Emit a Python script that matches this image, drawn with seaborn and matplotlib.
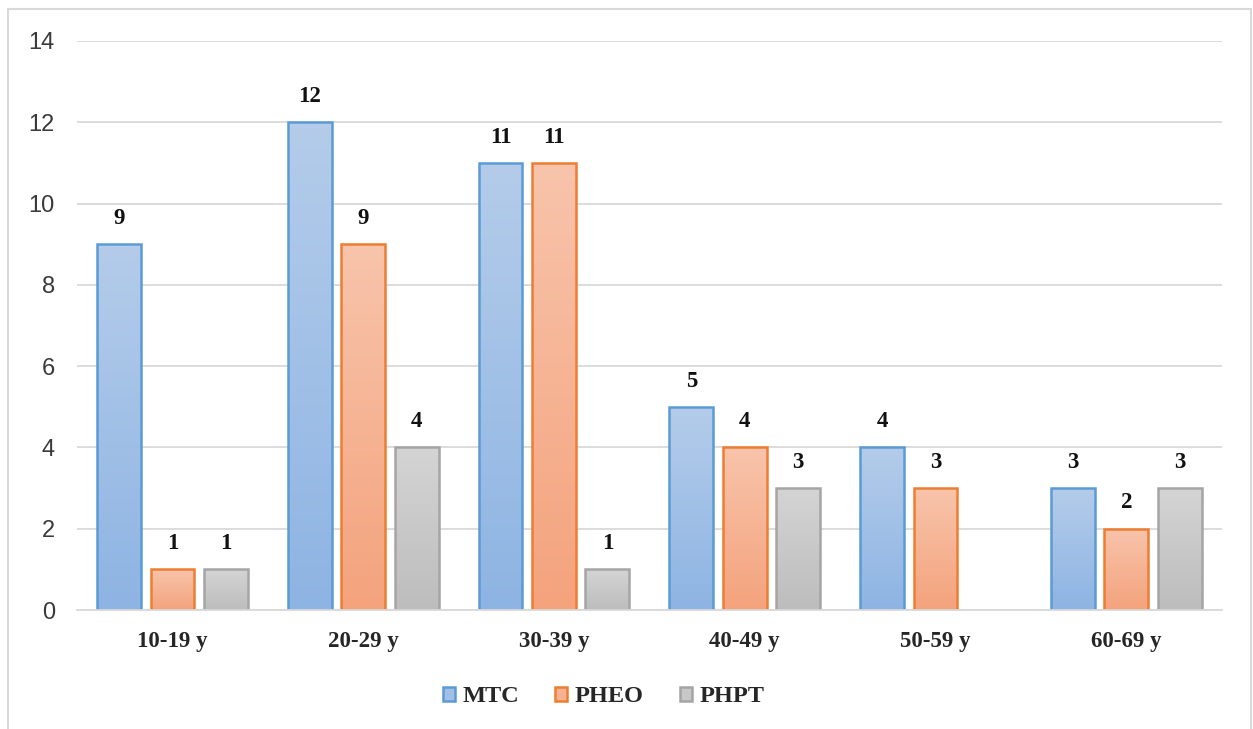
import numpy as np
import pandas as pd
import matplotlib
matplotlib.use("Agg")
import matplotlib.pyplot as plt
import seaborn as sns
from matplotlib.colors import LinearSegmentedColormap
from matplotlib.patches import Patch, Rectangle

age_groups = ["10-19 y", "20-29 y", "30-39 y", "40-49 y", "50-59 y", "60-69 y"]
diseases = ["MTC", "PHEO", "PHPT"]
mtc = [9, 12, 11, 5, 4, 3]
pheo = [1, 9, 11, 4, 3, 2]
phpt = [1, 4, 1, 3, np.nan, 3]

edge_cols = {"MTC": "#5B9BD5", "PHEO": "#ED7D31", "PHPT": "#A5A5A5"}
top_cols = {"MTC": "#B4CCEA", "PHEO": "#F8C4AB", "PHPT": "#D4D4D4"}
bot_cols = {"MTC": "#8EB4E3", "PHEO": "#F4A37D", "PHPT": "#BDBDBD"}
mid_cols = {"MTC": "#A2C0E6", "PHEO": "#F6B394", "PHPT": "#C8C8C8"}

df = pd.DataFrame({"age": age_groups * 3,
                   "disease": ["MTC"] * 6 + ["PHEO"] * 6 + ["PHPT"] * 6,
                   "n": mtc + pheo + phpt})

sns.set_style("white")
serif = ["Liberation Serif", "DejaVu Serif"]
fig = plt.figure(figsize=(12.53, 7.29), dpi=100)
ax = fig.add_axes([0.0615, 0.1632, 0.9135, 0.7806])

sns.barplot(data=df, x="age", y="n", hue="disease", hue_order=diseases,
            palette=mid_cols, width=0.84, gap=0.18, ax=ax, legend=False,
            errorbar=None)

ax.set_ylim(0, 14)
ax.set_yticks(range(0, 15, 2))
ax.set_xlim(-0.5, 5.5)
ax.yaxis.grid(True, color="#D9D9D9", linewidth=1.3)
ax.set_axisbelow(True)
for s in ["top", "right", "left"]:
    ax.spines[s].set_visible(False)
ax.spines["bottom"].set_color("#D9D9D9")
ax.spines["bottom"].set_linewidth(1.3)
ax.tick_params(axis="both", length=0)
ax.tick_params(axis="y", pad=16, labelsize=17, labelcolor="#3A3A3A")
ax.tick_params(axis="x", pad=15)
ax.set_xlabel("")
ax.set_ylabel("")
for t in ax.get_yticklabels():
    t.set_family(["Liberation Sans", "DejaVu Sans"])
for t in ax.get_xticklabels():
    t.set_family(serif)
    t.set_fontweight("bold")
    t.set_fontsize(16.5)

# gradient fills clipped to each bar, darker towards the base
for cont, d in zip(ax.containers, diseases):
    cmap = LinearSegmentedColormap.from_list(d, [bot_cols[d], top_cols[d]])
    for bar in cont:
        h = bar.get_height()
        if not np.isfinite(h) or h == 0:
            continue
        x0 = bar.get_x()
        w = bar.get_width()
        grad = np.linspace(0, 1, 100).reshape(-1, 1)
        im = ax.imshow(grad, cmap=cmap, origin="lower", aspect="auto",
                       extent=[x0, x0 + w, 0, h], zorder=1.5)
        im.set_clip_path(bar)
        bar.set_facecolor("none")
        bar.set_edgecolor(edge_cols[d])
        bar.set_linewidth(1.8)
        bar.set_zorder(2)
    labels = ["" if not np.isfinite(b.get_height()) else f"{b.get_height():.0f}" for b in cont]
    ax.bar_label(cont, labels=labels, padding=11, fontsize=16.5, fontweight="bold",
                 family=serif, color="#111111")

ax.set_xlim(-0.5, 5.5)
ax.set_ylim(0, 14)

handles = [Patch(facecolor=mid_cols[d], edgecolor=edge_cols[d], linewidth=1.8, label=d)
           for d in diseases]
fig.legend(handles=handles, loc="center", bbox_to_anchor=(0.4817, 0.044), ncol=3,
           frameon=False, handlelength=0.5, handleheight=0.5, handletextpad=0.3,
           columnspacing=1.5, prop={"family": serif, "weight": "bold", "size": 17.5})

fig.patches.append(Rectangle((8 / 1253, -0.01), 1243 / 1253, 1 - 9 / 729 + 0.01,
                             transform=fig.transFigure, fill=False,
                             edgecolor="#D9D9D9", linewidth=1.5, zorder=-1))

fig.savefig("out.png", dpi=100)
